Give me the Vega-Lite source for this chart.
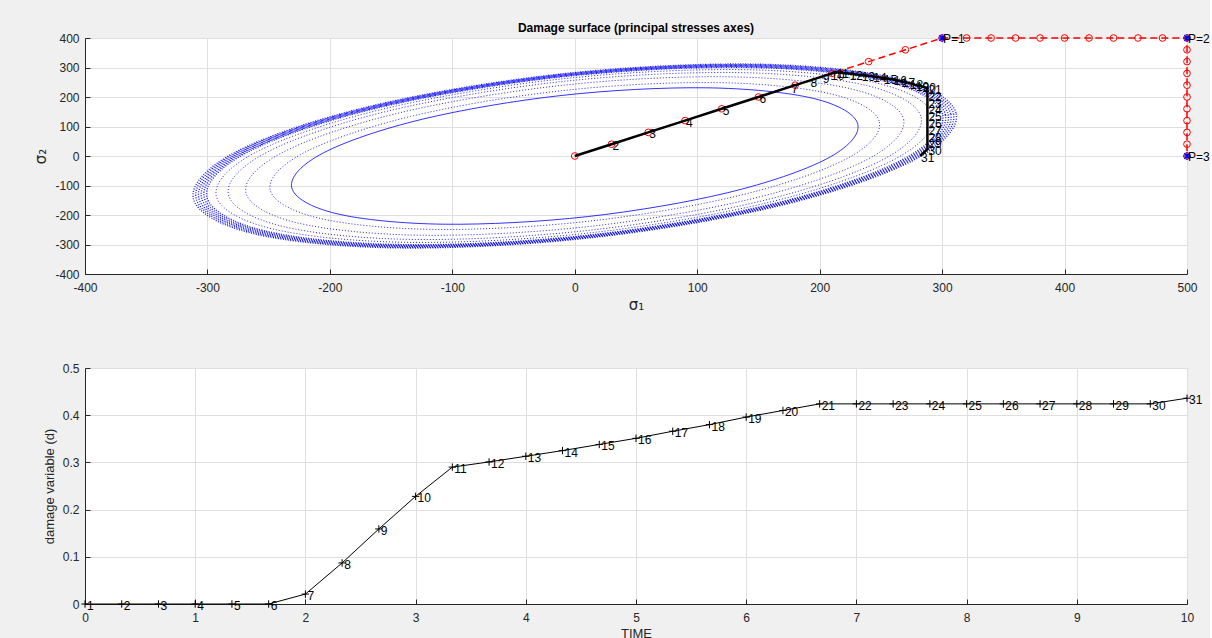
{
  "$schema": "https://vega.github.io/schema/vega-lite/v6.json",
  "background": "#f0f0f0",
  "padding": {"left": 33, "top": 21, "right": 0, "bottom": 0},
  "spacing": 94,
  "bounds": "flush",
  "config": {
    "font": "Liberation Sans",
    "view": {"fill": "white", "stroke": null},
    "axis": {
      "labelFont": "Liberation Sans", "labelFontSize": 12, "labelColor": "#262626",
      "titleFont": "Liberation Sans", "titleFontSize": 13, "titleColor": "#262626", "titleFontWeight": "normal",
      "domainColor": "#262626", "tickColor": "#262626", "tickSize": -5,
      "gridColor": "#dfdfdf", "grid": true, "labelFlush": false, "labelOverlap": false
    },
    "axisX": {"labelPadding": 13, "titlePadding": 4},
    "axisY": {"labelPadding": 11, "titlePadding": 6}
  },
  "datasets": {
    "ell": [
      {"r":210,"j":0,"x":195,"y":195},{"r":210,"j":1,"x":231.2,"y":106.6},{"r":210,"j":2,"x":205.4,"y":-10.4},{"r":210,"j":3,"x":124.6,"y":-124.6},{"r":210,"j":4,"x":10.4,"y":-205.4},{"r":210,"j":5,"x":-106.6,"y":-231.2},{"r":210,"j":6,"x":-195,"y":-195},{"r":210,"j":7,"x":-231.2,"y":-106.6},{"r":210,"j":8,"x":-205.4,"y":10.4},{"r":210,"j":9,"x":-124.6,"y":124.6},{"r":210,"j":10,"x":-10.4,"y":205.4},{"r":210,"j":11,"x":106.6,"y":231.2},
      {"r":226,"j":0,"x":209.8,"y":209.8},{"r":226,"j":1,"x":248.8,"y":114.7},{"r":226,"j":2,"x":221.1,"y":-11.2},{"r":226,"j":3,"x":134.1,"y":-134.1},{"r":226,"j":4,"x":11.2,"y":-221.1},{"r":226,"j":5,"x":-114.7,"y":-248.8},{"r":226,"j":6,"x":-209.8,"y":-209.8},{"r":226,"j":7,"x":-248.8,"y":-114.7},{"r":226,"j":8,"x":-221.1,"y":11.2},{"r":226,"j":9,"x":-134.1,"y":134.1},{"r":226,"j":10,"x":-11.2,"y":221.1},{"r":226,"j":11,"x":114.7,"y":248.8},
      {"r":244,"j":0,"x":226.6,"y":226.6},{"r":244,"j":1,"x":268.6,"y":123.8},{"r":244,"j":2,"x":238.7,"y":-12.1},{"r":244,"j":3,"x":144.8,"y":-144.8},{"r":244,"j":4,"x":12.1,"y":-238.7},{"r":244,"j":5,"x":-123.8,"y":-268.6},{"r":244,"j":6,"x":-226.6,"y":-226.6},{"r":244,"j":7,"x":-268.6,"y":-123.8},{"r":244,"j":8,"x":-238.7,"y":12.1},{"r":244,"j":9,"x":-144.8,"y":144.8},{"r":244,"j":10,"x":-12.1,"y":238.7},{"r":244,"j":11,"x":123.8,"y":268.6},
      {"r":257,"j":0,"x":238.6,"y":238.6},{"r":257,"j":1,"x":282.9,"y":130.4},{"r":257,"j":2,"x":251.4,"y":-12.7},{"r":257,"j":3,"x":152.5,"y":-152.5},{"r":257,"j":4,"x":12.7,"y":-251.4},{"r":257,"j":5,"x":-130.4,"y":-282.9},{"r":257,"j":6,"x":-238.6,"y":-238.6},{"r":257,"j":7,"x":-282.9,"y":-130.4},{"r":257,"j":8,"x":-251.4,"y":12.7},{"r":257,"j":9,"x":-152.5,"y":152.5},{"r":257,"j":10,"x":-12.7,"y":251.4},{"r":257,"j":11,"x":130.4,"y":282.9},
      {"r":266,"j":0,"x":247,"y":247},{"r":266,"j":1,"x":292.8,"y":135},{"r":266,"j":2,"x":260.2,"y":-13.2},{"r":266,"j":3,"x":157.8,"y":-157.8},{"r":266,"j":4,"x":13.2,"y":-260.2},{"r":266,"j":5,"x":-135,"y":-292.8},{"r":266,"j":6,"x":-247,"y":-247},{"r":266,"j":7,"x":-292.8,"y":-135},{"r":266,"j":8,"x":-260.2,"y":13.2},{"r":266,"j":9,"x":-157.8,"y":157.8},{"r":266,"j":10,"x":-13.2,"y":260.2},{"r":266,"j":11,"x":135,"y":292.8},
      {"r":273,"j":0,"x":253.5,"y":253.5},{"r":273,"j":1,"x":300.5,"y":138.5},{"r":273,"j":2,"x":267,"y":-13.5},{"r":273,"j":3,"x":162,"y":-162},{"r":273,"j":4,"x":13.5,"y":-267},{"r":273,"j":5,"x":-138.5,"y":-300.5},{"r":273,"j":6,"x":-253.5,"y":-253.5},{"r":273,"j":7,"x":-300.5,"y":-138.5},{"r":273,"j":8,"x":-267,"y":13.5},{"r":273,"j":9,"x":-162,"y":162},{"r":273,"j":10,"x":-13.5,"y":267},{"r":273,"j":11,"x":138.5,"y":300.5},
      {"r":275,"j":0,"x":255.3,"y":255.3},{"r":275,"j":1,"x":302.7,"y":139.5},{"r":275,"j":2,"x":269,"y":-13.6},{"r":275,"j":3,"x":163.2,"y":-163.2},{"r":275,"j":4,"x":13.6,"y":-269},{"r":275,"j":5,"x":-139.5,"y":-302.7},{"r":275,"j":6,"x":-255.3,"y":-255.3},{"r":275,"j":7,"x":-302.7,"y":-139.5},{"r":275,"j":8,"x":-269,"y":13.6},{"r":275,"j":9,"x":-163.2,"y":163.2},{"r":275,"j":10,"x":-13.6,"y":269},{"r":275,"j":11,"x":139.5,"y":302.7},
      {"r":277,"j":0,"x":257.2,"y":257.2},{"r":277,"j":1,"x":304.9,"y":140.5},{"r":277,"j":2,"x":271,"y":-13.7},{"r":277,"j":3,"x":164.4,"y":-164.4},{"r":277,"j":4,"x":13.7,"y":-271},{"r":277,"j":5,"x":-140.5,"y":-304.9},{"r":277,"j":6,"x":-257.2,"y":-257.2},{"r":277,"j":7,"x":-304.9,"y":-140.5},{"r":277,"j":8,"x":-271,"y":13.7},{"r":277,"j":9,"x":-164.4,"y":164.4},{"r":277,"j":10,"x":-13.7,"y":271},{"r":277,"j":11,"x":140.5,"y":304.9},
      {"r":279,"j":0,"x":259,"y":259},{"r":279,"j":1,"x":307.1,"y":141.6},{"r":279,"j":2,"x":272.9,"y":-13.8},{"r":279,"j":3,"x":165.6,"y":-165.6},{"r":279,"j":4,"x":13.8,"y":-272.9},{"r":279,"j":5,"x":-141.6,"y":-307.1},{"r":279,"j":6,"x":-259,"y":-259},{"r":279,"j":7,"x":-307.1,"y":-141.6},{"r":279,"j":8,"x":-272.9,"y":13.8},{"r":279,"j":9,"x":-165.6,"y":165.6},{"r":279,"j":10,"x":-13.8,"y":272.9},{"r":279,"j":11,"x":141.6,"y":307.1},
      {"r":281,"j":0,"x":260.9,"y":260.9},{"r":281,"j":1,"x":309.3,"y":142.6},{"r":281,"j":2,"x":274.9,"y":-13.9},{"r":281,"j":3,"x":166.7,"y":-166.7},{"r":281,"j":4,"x":13.9,"y":-274.9},{"r":281,"j":5,"x":-142.6,"y":-309.3},{"r":281,"j":6,"x":-260.9,"y":-260.9},{"r":281,"j":7,"x":-309.3,"y":-142.6},{"r":281,"j":8,"x":-274.9,"y":13.9},{"r":281,"j":9,"x":-166.7,"y":166.7},{"r":281,"j":10,"x":-13.9,"y":274.9},{"r":281,"j":11,"x":142.6,"y":309.3},
      {"r":283,"j":0,"x":262.8,"y":262.8},{"r":283,"j":1,"x":311.5,"y":143.6},{"r":283,"j":2,"x":276.8,"y":-14},{"r":283,"j":3,"x":167.9,"y":-167.9},{"r":283,"j":4,"x":14,"y":-276.8},{"r":283,"j":5,"x":-143.6,"y":-311.5},{"r":283,"j":6,"x":-262.8,"y":-262.8},{"r":283,"j":7,"x":-311.5,"y":-143.6},{"r":283,"j":8,"x":-276.8,"y":14},{"r":283,"j":9,"x":-167.9,"y":167.9},{"r":283,"j":10,"x":-14,"y":276.8},{"r":283,"j":11,"x":143.6,"y":311.5}
    ],
    "red": [
      {"i":1,"x":0,"y":0},{"i":2,"x":30,"y":40},{"i":3,"x":60,"y":80},{"i":4,"x":90,"y":120},{"i":5,"x":120,"y":160},{"i":6,"x":150,"y":200},{"i":7,"x":180,"y":240},{"i":8,"x":210,"y":280},{"i":9,"x":240,"y":320},{"i":10,"x":270,"y":360},{"i":11,"x":300,"y":400},
      {"i":12,"x":320,"y":400},{"i":13,"x":340,"y":400},{"i":14,"x":360,"y":400},{"i":15,"x":380,"y":400},{"i":16,"x":400,"y":400},{"i":17,"x":420,"y":400},{"i":18,"x":440,"y":400},{"i":19,"x":460,"y":400},{"i":20,"x":480,"y":400},{"i":21,"x":500,"y":400},
      {"i":22,"x":500,"y":360},{"i":23,"x":500,"y":320},{"i":24,"x":500,"y":280},{"i":25,"x":500,"y":240},{"i":26,"x":500,"y":200},{"i":27,"x":500,"y":160},{"i":28,"x":500,"y":120},{"i":29,"x":500,"y":80},{"i":30,"x":500,"y":40},{"i":31,"x":500,"y":0}
    ],
    "blk": [
      {"i":1,"x":0,"y":0,"lab":""},{"i":2,"x":30,"y":40,"lab":"2"},{"i":3,"x":60,"y":80,"lab":"3"},{"i":4,"x":90,"y":120,"lab":"4"},{"i":5,"x":120,"y":160,"lab":"5"},{"i":6,"x":150,"y":200,"lab":"6"},{"i":7,"x":176.2,"y":235,"lab":"7"},{"i":8,"x":191.7,"y":255.6,"lab":"8"},{"i":9,"x":201.8,"y":269.1,"lab":"9"},{"i":10,"x":208.4,"y":277.9,"lab":"10"},{"i":11,"x":213,"y":284,"lab":"11"},
      {"i":12,"x":223.7,"y":279.6,"lab":"12"},{"i":13,"x":233.6,"y":274.8,"lab":"13"},{"i":14,"x":243,"y":270,"lab":"14"},{"i":15,"x":251.6,"y":264.8,"lab":"15"},{"i":16,"x":259.6,"y":259.6,"lab":"16"},{"i":17,"x":266.3,"y":253.6,"lab":"17"},{"i":18,"x":272.8,"y":248,"lab":"18"},{"i":19,"x":277.8,"y":241.6,"lab":"19"},{"i":20,"x":283.2,"y":236,"lab":"20"},{"i":21,"x":288,"y":230.4,"lab":"21"},
      {"i":22,"x":288,"y":207.4,"lab":"22"},{"i":23,"x":288,"y":184.3,"lab":"23"},{"i":24,"x":288,"y":161.3,"lab":"24"},{"i":25,"x":288,"y":138.2,"lab":"25"},{"i":26,"x":288,"y":115.2,"lab":"26"},{"i":27,"x":288,"y":92.2,"lab":"27"},{"i":28,"x":288,"y":69.1,"lab":"28"},{"i":29,"x":288,"y":46.1,"lab":"29"},{"i":30,"x":288,"y":23,"lab":"30"},{"i":31,"x":282,"y":0,"lab":"31"}
    ],
    "pp": [
      {"x":300,"y":400,"lab":"P=1"},{"x":500,"y":400,"lab":"P=2"},{"x":500,"y":0,"lab":"P=3"}
    ],
    "dmg": [
      {"t":0,"d":0,"lab":"1"},{"t":0.3333,"d":0,"lab":"2"},{"t":0.6667,"d":0,"lab":"3"},{"t":1,"d":0,"lab":"4"},{"t":1.3333,"d":0,"lab":"5"},{"t":1.6667,"d":0,"lab":"6"},
      {"t":2,"d":0.021,"lab":"7"},{"t":2.3333,"d":0.087,"lab":"8"},{"t":2.6667,"d":0.159,"lab":"9"},{"t":3,"d":0.228,"lab":"10"},{"t":3.3333,"d":0.29,"lab":"11"},
      {"t":3.6667,"d":0.301,"lab":"12"},{"t":4,"d":0.313,"lab":"13"},{"t":4.3333,"d":0.325,"lab":"14"},{"t":4.6667,"d":0.338,"lab":"15"},{"t":5,"d":0.351,"lab":"16"},
      {"t":5.3333,"d":0.366,"lab":"17"},{"t":5.6667,"d":0.38,"lab":"18"},{"t":6,"d":0.396,"lab":"19"},{"t":6.3333,"d":0.41,"lab":"20"},{"t":6.6667,"d":0.424,"lab":"21"},
      {"t":7,"d":0.424,"lab":"22"},{"t":7.3333,"d":0.424,"lab":"23"},{"t":7.6667,"d":0.424,"lab":"24"},{"t":8,"d":0.424,"lab":"25"},{"t":8.3333,"d":0.424,"lab":"26"},
      {"t":8.6667,"d":0.424,"lab":"27"},{"t":9,"d":0.424,"lab":"28"},{"t":9.3333,"d":0.424,"lab":"29"},{"t":9.6667,"d":0.424,"lab":"30"},{"t":10,"d":0.436,"lab":"31"}
    ]
  },
  "vconcat": [
    {
      "width": 1102, "height": 236,
      "title": {"text": "Damage surface (principal stresses axes)", "fontSize": 12, "fontWeight": "bold", "font": "Liberation Sans", "color": "#000000", "offset": -3, "anchor": "middle"},
      "encoding": {
        "x": {"field": "x", "type": "quantitative", "scale": {"domain": [-400, 500], "nice": false, "zero": false},
              "axis": {"title": "σ₁", "titleFontSize": 15, "titleFont": "DejaVu Sans", "values": [-400,-300,-200,-100,0,100,200,300,400,500], "labelExpr": "'' + datum.value"}},
        "y": {"field": "y", "type": "quantitative", "scale": {"domain": [-400, 400], "nice": false, "zero": false},
              "axis": {"title": "σ₂", "titleFontSize": 15, "titleFont": "DejaVu Sans", "values": [-400,-300,-200,-100,0,100,200,300,400], "labelExpr": "'' + datum.value"}}
      },
      "layer": [
        {"data": {"name": "ell"}, "transform": [{"filter": "datum.r == 210"}],
         "mark": {"type": "line", "interpolate": "cardinal-closed", "color": "#0000ff", "strokeWidth": 1, "opacity": 0.8},
         "encoding": {"detail": {"field": "r"}, "order": {"field": "j"}}},
        {"data": {"name": "ell"}, "transform": [{"filter": "datum.r != 210 && datum.r < 273"}],
         "mark": {"type": "line", "interpolate": "cardinal-closed", "color": "#0000ff", "strokeWidth": 1, "opacity": 0.85, "strokeDash": [1, 2]},
         "encoding": {"detail": {"field": "r"}, "order": {"field": "j"}}},
        {"data": {"name": "ell"}, "transform": [{"filter": "datum.r >= 273"}],
         "mark": {"type": "line", "interpolate": "cardinal-closed", "color": "#0000ff", "strokeWidth": 1.4, "opacity": 0.9, "strokeDash": [1, 1.5]},
         "encoding": {"detail": {"field": "r"}, "order": {"field": "j"}}},
        {"data": {"name": "red"},
         "mark": {"type": "line", "color": "#ff0000", "strokeWidth": 1.5, "strokeDash": [7, 4]},
         "encoding": {"order": {"field": "i"}}},
        {"data": {"name": "red"},
         "mark": {"type": "point", "shape": "circle", "filled": false, "color": "#ff0000", "size": 45, "strokeWidth": 1, "opacity": 1}},
        {"data": {"name": "blk"},
         "mark": {"type": "line", "color": "#000000", "strokeWidth": 2.5},
         "encoding": {"order": {"field": "i"}}},
        {"data": {"name": "blk"},
         "mark": {"type": "text", "align": "left", "baseline": "middle", "dx": 1, "dy": 2, "fontSize": 12, "color": "#000000"},
         "encoding": {"text": {"field": "lab"}}},
        {"data": {"name": "pp"},
         "mark": {"type": "point", "shape": "M-1,0H1M0,-1V1M-0.7,-0.7L0.7,0.7M-0.7,0.7L0.7,-0.7", "filled": false, "color": "#0000ff", "size": 60, "strokeWidth": 1.2, "opacity": 1}},
        {"data": {"name": "pp"},
         "mark": {"type": "text", "align": "left", "baseline": "middle", "dx": 1, "dy": 1, "fontSize": 12, "color": "#000000"},
         "encoding": {"text": {"field": "lab"}}}
      ]
    },
    {
      "width": 1102, "height": 236,
      "data": {"name": "dmg"},
      "encoding": {
        "x": {"field": "t", "type": "quantitative", "scale": {"domain": [0, 10], "nice": false, "zero": false},
              "axis": {"title": "TIME", "values": [0,1,2,3,4,5,6,7,8,9,10], "labelExpr": "'' + datum.value"}},
        "y": {"field": "d", "type": "quantitative", "scale": {"domain": [0, 0.5], "nice": false, "zero": false},
              "axis": {"title": "damage variable (d)", "values": [0,0.1,0.2,0.3,0.4,0.5], "labelExpr": "'' + datum.value"}}
      },
      "layer": [
        {"mark": {"type": "line", "color": "#000000", "strokeWidth": 1}},
        {"mark": {"type": "point", "shape": "M-1,0H1M0,-1V1", "filled": false, "color": "#000000", "size": 55, "strokeWidth": 1, "opacity": 1}},
        {"mark": {"type": "text", "align": "left", "baseline": "middle", "dx": 2, "dy": 2, "fontSize": 12, "color": "#000000"},
         "encoding": {"text": {"field": "lab"}}}
      ]
    }
  ]
}
